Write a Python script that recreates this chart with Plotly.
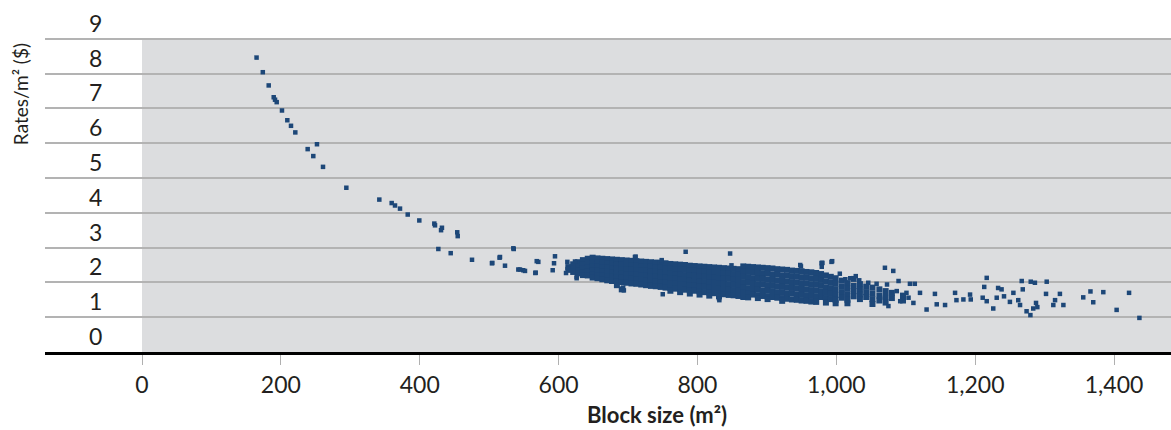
import plotly.graph_objects as go

# ---- Data ----
# Individual, clearly separable points: block size (m2) and rate per m2 ($)
tail_x = [165, 174, 182.5, 189.7, 191.6, 194, 201.6, 209.3, 214.6, 220.8, 238.6, 252, 246.7, 260.7,
          294.3, 341.8, 359.6, 364.4, 371.6, 382.7, 399.4, 421, 422, 432, 430.7, 454, 454.7, 426.8,
          444.6, 475.3, 504, 515, 535.4, 522.8, 542, 549, 567, 568.5]
tail_y = [8.46, 8.04, 7.66, 7.32, 7.25, 7.18, 6.94, 6.66, 6.50, 6.31, 5.83, 5.97, 5.63, 5.32,
          4.72, 4.38, 4.28, 4.21, 4.12, 3.95, 3.78, 3.69, 3.64, 3.57, 3.50, 3.44, 3.33, 2.96,
          2.84, 2.65, 2.55, 2.71, 2.96, 2.48, 2.37, 2.35, 2.28, 2.61]

mid_x = [504.5, 515.6, 534.8, 544.4, 551.6, 566.5, 570.8, 594.8, 593.4, 591.5, 610.7, 612.6, 623.6,
         626, 710, 748.5, 750, 783, 847, 831.5, 694, 849, 949, 979, 711, 748.5, 626, 831, 693, 948,
         980, 994]
mid_y = [2.56, 2.73, 2.98, 2.37, 2.33, 2.27, 2.59, 2.75, 2.55, 2.35, 2.27, 2.59, 2.60,
         2.12, 2.73, 2.60, 1.66, 2.88, 2.83, 1.49, 1.77, 2.49, 2.46, 2.56, 2.74, 2.64, 2.16, 1.54, 1.85, 2.50,
         2.56, 2.61]

right_x = [993, 979, 979, 979, 1070, 1082, 1089.6, 1106, 1113, 1120.5, 1142, 1130, 1144.6, 1156.6,
           1171, 1173, 1183, 1192.6, 1193.6, 1216.6, 1213, 1210.8, 1216.6, 1226, 1233, 1238, 1231,
           1241.5, 1255, 1250, 1262, 1264.6, 1267, 1268.5, 1280, 1286, 1303, 1274, 1279.5, 1283.6,
           1289.5, 1287.6, 1302, 1315, 1322, 1312.5, 1327, 1355.6, 1366, 1370, 1384.5, 1403.7,
           1421.6, 1436.5, 1005, 1013, 1020, 1028, 1033, 1046, 1058, 1073, 1087, 1101, 1104, 1111,
           1075, 1092, 1063]
right_y = [2.59, 2.55, 2.45, 2.20, 2.42, 2.33, 2.04, 1.96, 1.96, 1.70, 1.67, 1.22, 1.37, 1.35,
           1.70, 1.49, 1.51, 1.65, 1.51, 2.13, 1.87, 1.56, 1.46, 1.25, 1.84, 1.80, 1.56,
           1.60, 1.70, 1.44, 1.49, 1.35, 2.04, 1.80, 2.02, 1.99, 2.02, 1.17, 1.06, 1.25,
           1.29, 1.41, 1.67, 1.49, 1.67, 1.35, 1.35, 1.57, 1.74, 1.43, 1.72, 1.21,
           1.70, 0.98, 2.25, 2.09, 2.12, 2.18, 2.06, 1.99, 1.96, 1.94, 1.75, 1.70, 1.56, 1.41,
           1.32, 1.46, 1.56]

# Dense cloud, read column by column: (block size, [rates observed in that column])
cloud_columns = [
    (614, [2.44, 2.36]),
    (621, [2.52, 2.40, 2.30]),
    (628, [2.58, 2.46, 2.34, 2.26]),
    (635, [2.64, 2.52, 2.40, 2.29, 2.21]),
    (642, [2.68, 2.56, 2.44, 2.32, 2.20]),
    (649, [2.71, 2.58, 2.46, 2.34, 2.22, 2.14]),
    (656, [2.69, 2.57, 2.45, 2.33, 2.21, 2.12]),
    (663, [2.68, 2.56, 2.43, 2.31, 2.19, 2.09]),
    (670, [2.67, 2.55, 2.42, 2.30, 2.18, 2.06]),
    (677, [2.66, 2.53, 2.41, 2.29, 2.16, 2.04]),
    (684, [2.65, 2.52, 2.40, 2.27, 2.15, 2.03, 1.92]),
    (691, [2.64, 2.51, 2.38, 2.26, 2.13, 2.01, 1.80]),
    (698, [2.63, 2.50, 2.37, 2.24, 2.12, 1.99]),
    (705, [2.62, 2.49, 2.36, 2.23, 2.10, 1.97]),
    (712, [2.61, 2.48, 2.35, 2.22, 2.09, 1.96]),
    (719, [2.60, 2.47, 2.34, 2.21, 2.07, 1.94]),
    (726, [2.59, 2.46, 2.33, 2.19, 2.06, 1.92]),
    (733, [2.58, 2.45, 2.31, 2.18, 2.04, 1.90]),
    (740, [2.57, 2.44, 2.30, 2.16, 2.03, 1.89]),
    (747, [2.56, 2.42, 2.29, 2.15, 2.01, 1.87]),
    (754, [2.55, 2.41, 2.27, 2.13, 1.99, 1.85]),
    (761, [2.53, 2.40, 2.26, 2.12, 1.98, 1.84, 1.76]),
    (768, [2.52, 2.38, 2.24, 2.10, 1.96, 1.82]),
    (775, [2.51, 2.37, 2.23, 2.09, 1.95, 1.81, 1.72]),
    (782, [2.50, 2.36, 2.21, 2.07, 1.93, 1.79]),
    (789, [2.48, 2.34, 2.20, 2.06, 1.91, 1.77, 1.68]),
    (796, [2.47, 2.33, 2.19, 2.04, 1.90, 1.76]),
    (803, [2.46, 2.32, 2.17, 2.03, 1.88, 1.74, 1.65]),
    (810, [2.45, 2.31, 2.16, 2.01, 1.87, 1.72]),
    (817, [2.44, 2.29, 2.15, 2.00, 1.85, 1.71, 1.62]),
    (824, [2.43, 2.28, 2.13, 1.99, 1.84, 1.69]),
    (831, [2.42, 2.27, 2.12, 1.97, 1.82, 1.68, 1.60]),
    (838, [2.41, 2.26, 2.11, 1.96, 1.81, 1.66]),
    (845, [2.40, 2.25, 2.10, 1.94, 1.79, 1.64]),
    (852, [2.39, 2.24, 2.08, 1.93, 1.78, 1.63]),
    (859, [2.38, 2.23, 2.07, 1.92, 1.76, 1.61]),
    (866, [2.46, 2.32, 2.17, 2.01, 1.86, 1.70, 1.58]),
    (873, [2.45, 2.30, 2.14, 1.99, 1.83, 1.68, 1.57]),
    (880, [2.44, 2.28, 2.12, 1.97, 1.81, 1.65]),
    (887, [2.43, 2.27, 2.11, 1.95, 1.79, 1.63, 1.55]),
    (894, [2.42, 2.26, 2.10, 1.94, 1.77, 1.61]),
    (901, [2.41, 2.25, 2.08, 1.92, 1.76, 1.60, 1.52]),
    (908, [2.40, 2.23, 2.07, 1.90, 1.74, 1.58]),
    (915, [2.38, 2.22, 2.05, 1.89, 1.72, 1.56]),
    (922, [2.37, 2.20, 2.04, 1.87, 1.71, 1.55, 1.47]),
    (929, [2.36, 2.19, 2.02, 1.86, 1.69, 1.53]),
    (936, [2.34, 2.18, 2.01, 1.84, 1.68, 1.51]),
    (943, [2.33, 2.16, 1.99, 1.83, 1.66, 1.50]),
    (950, [2.32, 2.15, 1.98, 1.81, 1.64, 1.48]),
    (957, [2.30, 2.13, 1.96, 1.79, 1.63, 1.47]),
    (964, [2.29, 2.12, 1.95, 1.78, 1.61, 1.45]),
    (971, [2.27, 2.10, 1.93, 1.76, 1.60, 1.44]),
    (978, [2.24, 2.07, 1.90, 1.73, 1.58]),
    (985, [2.20, 2.03, 1.86, 1.70, 1.55, 1.42]),
    (992, [2.16, 1.99, 1.83, 1.67, 1.52]),
    (999, [2.12, 1.96, 1.80, 1.64, 1.50, 1.40]),
    (1008, [2.05, 1.88, 1.72, 1.56]),
    (1016, [1.98, 1.82, 1.66, 1.50, 1.40]),
    (1025, [2.10, 1.90, 1.75, 1.60]),
    (1034, [1.95, 1.80, 1.65, 1.52]),
    (1043, [1.88, 1.72, 1.58]),
    (1052, [1.85, 1.68, 1.52, 1.38]),
    (1062, [1.80, 1.62, 1.48]),
    (1071, [1.75, 1.58, 1.42]),
    (1080, [1.70, 1.55]),
    (1096, [1.62, 1.48]),
]

x_ticks = [0, 200, 400, 600, 800, 1000, 1200, 1400]
x_tick_labels = ["0", "200", "400", "600", "800", "1,000", "1,200", "1,400"]
y_ticks = [0, 1, 2, 3, 4, 5, 6, 7, 8, 9]
y_title = "Rates/m\u00b2 ($)"
x_title = "<b>Block size (m\u00b2)</b>"

# ---- Build ----
cloud_x = []
cloud_y = []
for cx, ys in cloud_columns:
    for yv in ys:
        cloud_x.append(cx)
        cloud_y.append(yv)

single_x = tail_x + mid_x + right_x
single_y = tail_y + mid_y + right_y

MARK = "#1d4778"
FONT = "Lato, 'Open Sans', sans-serif"
X_MIN, X_MAX = -139.7, 1482
Y_MAX = 10

fig = go.Figure()
fig.add_trace(go.Scatter(
    x=cloud_x, y=cloud_y, mode="markers",
    marker=dict(symbol="square", size=6, color=MARK, line=dict(width=0)),
    hoverinfo="x+y", showlegend=False,
))
fig.add_trace(go.Scatter(
    x=single_x, y=single_y, mode="markers",
    marker=dict(symbol="square", size=4.5, color=MARK, line=dict(width=0)),
    hoverinfo="x+y", showlegend=False,
))

# grey plotting panel starting at x = 0, up to the top gridline
fig.add_shape(type="rect", xref="x", yref="y", x0=0, x1=X_MAX, y0=0, y1=9,
              fillcolor="#dcdddf", line=dict(width=0), layer="below")

fig.update_layout(
    width=1171, height=430,
    margin=dict(l=45, r=0, t=4, b=78, autoexpand=False),
    paper_bgcolor="white", plot_bgcolor="white",
    font=dict(family=FONT, color="#231f20"),
    xaxis=dict(
        range=[X_MIN, X_MAX], tickmode="array", tickvals=x_ticks, ticktext=x_tick_labels,
        showgrid=False, zeroline=False, showline=True, linecolor="black", linewidth=3,
        ticks="outside", ticklen=10, tickwidth=1, tickcolor="#b0b0b0", automargin=False,
        tickfont=dict(size=23, family=FONT, color="#231f20"),
    ),
    yaxis=dict(
        range=[0, Y_MAX], tickmode="array", tickvals=y_ticks, automargin=False,
        showgrid=True, gridcolor="#b3b3b3", gridwidth=1.5, zeroline=False, showline=False,
        ticks="", ticklabelposition="inside", ticklabelstandoff=41, ticklabelshift=-15,
        tickfont=dict(size=23, family=FONT, color="#231f20"),
    ),
    annotations=[
        dict(text=y_title, xref="paper", yref="paper", x=-0.0222, y=0.741, xanchor="center",
             yanchor="middle", textangle=-90, showarrow=False,
             font=dict(size=19, family=FONT, color="#231f20")),
        dict(text=x_title, xref="paper", yref="paper", x=0.5435, y=-0.181,
             xanchor="center", yanchor="middle", showarrow=False,
             font=dict(size=22, family=FONT, color="#231f20")),
    ],
)

fig.write_html("out.html", config={"displayModeBar": False},
               post_script="document.body.style.margin='0';")
